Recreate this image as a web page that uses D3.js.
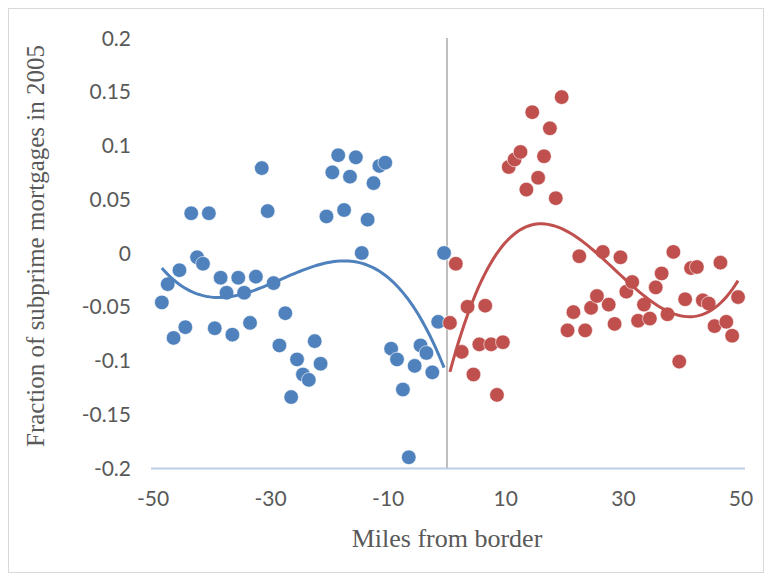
<!DOCTYPE html>
<html>
<head>
    <script src="https://d3js.org/d3.v7.min.js"></script>
    <style>
        body { margin: 0; background: #fff; }
        .tick-label { font-family: Lato, sans-serif; font-size: 21px; fill: #595959; }
        .axis-title { font-family: "Liberation Serif", "Times New Roman", serif; font-size: 26px; fill: #595959; }
    </style>
</head>
<body>
<div id="chart"></div>
<script>
// bin midpoints, miles from border
const blueX = [-48.5, -47.5, -46.5, -45.5, -44.5, -43.5, -42.5, -41.5, -40.5, -39.5,
    -38.5, -37.5, -36.5, -35.5, -34.5, -33.5, -32.5, -31.5, -30.5, -29.5,
    -28.5, -27.5, -26.5, -25.5, -24.5, -23.5, -22.5, -21.5, -20.5, -19.5,
    -18.5, -17.5, -16.5, -15.5, -14.5, -13.5, -12.5, -11.5, -10.5, -9.5,
    -8.5, -7.5, -6.5, -5.5, -4.5, -3.5, -2.5, -1.5, -0.5];
const blueY = [-0.046, -0.029, -0.079, -0.016, -0.069, 0.037, -0.004, -0.010, 0.037, -0.070,
    -0.023, -0.037, -0.076, -0.023, -0.037, -0.065, -0.022, 0.079, 0.039, -0.028,
    -0.086, -0.056, -0.134, -0.099, -0.113, -0.118, -0.082, -0.103, 0.034, 0.075,
    0.091, 0.040, 0.071, 0.089, 0.000, 0.031, 0.065, 0.081, 0.084, -0.089,
    -0.099, -0.127, -0.190, -0.105, -0.086, -0.093, -0.111, -0.064, 0.000];

const redX = [0.5, 1.5, 2.5, 3.5, 4.5, 5.5, 6.5, 7.5, 8.5, 9.5,
    10.5, 11.5, 12.5, 13.5, 14.5, 15.5, 16.5, 17.5, 18.5, 19.5,
    20.5, 21.5, 22.5, 23.5, 24.5, 25.5, 26.5, 27.5, 28.5, 29.5,
    30.5, 31.5, 32.5, 33.5, 34.5, 35.5, 36.5, 37.5, 38.5, 39.5,
    40.5, 41.5, 42.5, 43.5, 44.5, 45.5, 46.5, 47.5, 48.5, 49.5];
const redY = [-0.065, -0.010, -0.092, -0.050, -0.113, -0.085, -0.049, -0.085, -0.132, -0.083,
    0.080, 0.087, 0.094, 0.059, 0.131, 0.070, 0.090, 0.116, 0.051, 0.145,
    -0.072, -0.055, -0.003, -0.072, -0.051, -0.040, 0.001, -0.048, -0.066, -0.004,
    -0.036, -0.027, -0.063, -0.048, -0.061, -0.032, -0.019, -0.057, 0.001, -0.101,
    -0.043, -0.014, -0.013, -0.044, -0.047, -0.068, -0.009, -0.064, -0.077, -0.041];

const xTicks = [-50, -30, -10, 10, 30, 50];
const yTicks = [0.2, 0.15, 0.1, 0.05, 0, -0.05, -0.1, -0.15, -0.2];
const trendOrder = 3;

const width = 772, height = 581;

const svg = d3.select('#chart').append('svg')
    .attr('width', width)
    .attr('height', height);

// chart area border
svg.append('rect')
    .attr('x', 8.5).attr('y', 8.5)
    .attr('width', 755).attr('height', 564)
    .attr('fill', '#fff')
    .attr('stroke', '#d9d9d9');

const x = d3.scaleLinear().domain([-50, 50]).range([153, 741]);
const y = d3.scaleLinear().domain([-0.2, 0.2]).range([468, 38]);

// horizontal axis line at bottom
svg.append('line')
    .attr('x1', 151).attr('x2', 745)
    .attr('y1', y(-0.2) + 0.5).attr('y2', y(-0.2) + 0.5)
    .attr('stroke', '#bcd0e8').attr('stroke-width', 2);

// vertical axis at x = 0
svg.append('line')
    .attr('x1', x(0)).attr('x2', x(0))
    .attr('y1', y(0.2)).attr('y2', y(-0.2))
    .attr('stroke', '#bfbfbf').attr('stroke-width', 2);

svg.append('g').selectAll('text')
    .data(yTicks)
    .join('text')
    .attr('class', 'tick-label')
    .attr('x', 131)
    .attr('y', d => y(d))
    .attr('dy', '0.36em')
    .attr('text-anchor', 'end')
    .text(d => d3.format('')(d).replace('−', '-'));

svg.append('g').selectAll('text')
    .data(xTicks)
    .join('text')
    .attr('class', 'tick-label')
    .attr('x', d => x(d))
    .attr('y', 506)
    .attr('text-anchor', 'middle')
    .text(d => d);

svg.append('text')
    .attr('class', 'axis-title')
    .attr('x', 447).attr('y', 547)
    .attr('text-anchor', 'middle')
    .text('Miles from border');

svg.append('text')
    .attr('class', 'axis-title')
    .style('font-size', '25px')
    .attr('transform', 'translate(44,246) rotate(-90)')
    .attr('text-anchor', 'middle')
    .text('Fraction of subprime mortgages in 2005');

// least squares polynomial trendline, like Excel's
function polyFit(xs, ys, order) {
    const n = order + 1;
    const A = [];
    for (let i = 0; i < n; i++) {
        A.push(new Array(n + 1).fill(0));
        for (let j = 0; j < n; j++) {
            A[i][j] = d3.sum(xs, v => Math.pow(v, i + j));
        }
        A[i][n] = d3.sum(xs, (v, k) => ys[k] * Math.pow(v, i));
    }
    for (let c = 0; c < n; c++) {
        let p = c;
        for (let r = c + 1; r < n; r++) if (Math.abs(A[r][c]) > Math.abs(A[p][c])) p = r;
        [A[c], A[p]] = [A[p], A[c]];
        for (let r = 0; r < n; r++) {
            if (r === c) continue;
            const f = A[r][c] / A[c][c];
            for (let k = c; k <= n; k++) A[r][k] -= f * A[c][k];
        }
    }
    const coef = A.map((row, i) => row[n] / row[i]);
    return v => d3.sum(coef, (c, i) => c * Math.pow(v, i));
}

function drawSeries(xs, ys, color) {
    const f = polyFit(xs, ys, trendOrder);
    const lo = d3.min(xs), hi = d3.max(xs);
    const pts = d3.range(0, 101).map(i => lo + (hi - lo) * i / 100);

    svg.append('g').selectAll('circle')
        .data(xs)
        .join('circle')
        .attr('cx', d => x(d))
        .attr('cy', (d, i) => y(ys[i]))
        .attr('r', 7.3)
        .attr('fill', color)
        .attr('stroke', '#fff')
        .attr('stroke-width', 0.6);

    svg.append('path')
        .datum(pts)
        .attr('fill', 'none')
        .attr('stroke', color)
        .attr('stroke-width', 3)
        .attr('d', d3.line().x(d => x(d)).y(d => y(f(d))));
}

drawSeries(blueX, blueY, '#4f81bd');
drawSeries(redX, redY, '#c0504d');
</script>
</body>
</html>
